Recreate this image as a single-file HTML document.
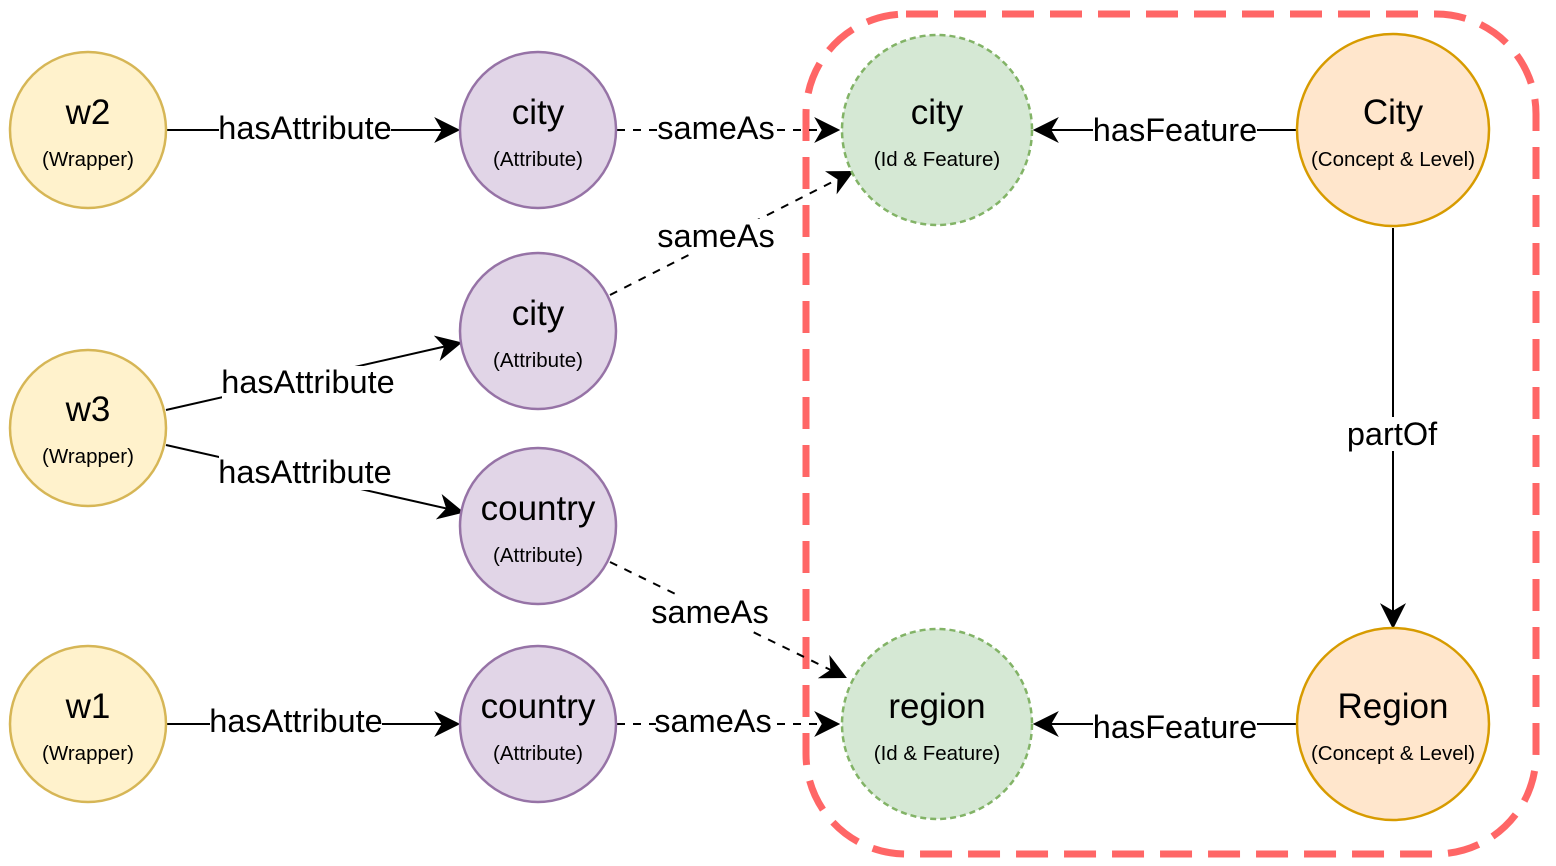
<!DOCTYPE html>
<html><head><meta charset="utf-8"><style>
html,body{margin:0;padding:0;background:#fff;}
svg{display:block;}
text{font-family:"Liberation Sans",Helvetica,Arial,sans-serif;fill:#000;}
.t{font-size:35px;text-anchor:middle;}
.s{font-size:20.5px;text-anchor:middle;}
.l{font-size:32.5px;text-anchor:middle;dominant-baseline:central;}
</style></head><body>
<svg width="1556" height="866" viewBox="0 0 1556 866" xmlns="http://www.w3.org/2000/svg">
<defs>
<marker id="b" viewBox="0 0 12 12" refX="11" refY="6" markerWidth="26" markerHeight="26" markerUnits="userSpaceOnUse" orient="auto">
<path d="M0,0 L12,6 L0,12 L3.5,6 z" fill="#000"/>
</marker>
</defs>
<rect x="806" y="14" width="730" height="840" rx="100" fill="none" stroke="#ff6666" stroke-width="7" stroke-dasharray="32,16"/>

<g stroke="#000" stroke-width="2" fill="none">
<line x1="167" y1="130" x2="458" y2="130" marker-end="url(#b)"/>
<line x1="617" y1="130" x2="838" y2="130" stroke-dasharray="8,8" marker-end="url(#b)"/>
<line x1="610" y1="295" x2="852" y2="172" stroke-dasharray="8,8" marker-end="url(#b)"/>
<line x1="166" y1="410" x2="460" y2="343" marker-end="url(#b)"/>
<line x1="166" y1="445" x2="462" y2="512" marker-end="url(#b)"/>
<line x1="610" y1="562" x2="845" y2="677" stroke-dasharray="8,8" marker-end="url(#b)"/>
<line x1="167" y1="724" x2="458" y2="724" marker-end="url(#b)"/>
<line x1="617" y1="724" x2="838" y2="724" stroke-dasharray="8,8" marker-end="url(#b)"/>
<line x1="1297" y1="130" x2="1035" y2="130" marker-end="url(#b)"/>
<line x1="1297" y1="724" x2="1035" y2="724" marker-end="url(#b)"/>
<line x1="1393" y1="228" x2="1393" y2="627" marker-end="url(#b)"/>
</g>

<g>
<rect x="219" y="112" width="172" height="34" fill="#fff"/><text class="l" x="305" y="128">hasAttribute</text>
<rect x="659" y="112" width="114" height="34" fill="#fff"/><text class="l" x="716" y="128">sameAs</text>
<rect x="659" y="219" width="114" height="34" fill="#fff"/><text class="l" x="716" y="236">sameAs</text>
<rect x="222" y="366" width="172" height="34" fill="#fff"/><text class="l" x="308" y="382">hasAttribute</text>
<rect x="219" y="456" width="172" height="34" fill="#fff"/><text class="l" x="305" y="472">hasAttribute</text>
<rect x="653" y="596" width="114" height="34" fill="#fff"/><text class="l" x="710" y="612">sameAs</text>
<rect x="210" y="705" width="172" height="34" fill="#fff"/><text class="l" x="296" y="721">hasAttribute</text>
<rect x="656" y="705" width="114" height="34" fill="#fff"/><text class="l" x="713" y="721">sameAs</text>
<rect x="1093" y="114" width="164" height="34" fill="#fff"/><text class="l" x="1175" y="130">hasFeature</text>
<rect x="1093" y="711" width="164" height="34" fill="#fff"/><text class="l" x="1175" y="727">hasFeature</text>
<rect x="1346" y="417" width="92" height="34" fill="#fff"/><text class="l" x="1392" y="434">partOf</text>
</g>

<g stroke-width="2.5">
<circle cx="88" cy="130" r="78" fill="#fff2cc" stroke="#d6b656"/>
<circle cx="88" cy="428" r="78" fill="#fff2cc" stroke="#d6b656"/>
<circle cx="88" cy="724" r="78" fill="#fff2cc" stroke="#d6b656"/>
<circle cx="538" cy="130" r="78" fill="#e1d5e7" stroke="#9673a6"/>
<circle cx="538" cy="331" r="78" fill="#e1d5e7" stroke="#9673a6"/>
<circle cx="538" cy="526" r="78" fill="#e1d5e7" stroke="#9673a6"/>
<circle cx="538" cy="724" r="78" fill="#e1d5e7" stroke="#9673a6"/>
<circle cx="937" cy="130" r="95" fill="#d5e8d4" stroke="#82b366" stroke-dasharray="6,4"/>
<circle cx="937" cy="724" r="95" fill="#d5e8d4" stroke="#82b366" stroke-dasharray="6,4"/>
<circle cx="1393" cy="130" r="96" fill="#ffe6cc" stroke="#d79b00"/>
<circle cx="1393" cy="724" r="96" fill="#ffe6cc" stroke="#d79b00"/>
</g>

<text class="t" x="88" y="124">w2</text><text class="s" x="88" y="166">(Wrapper)</text>
<text class="t" x="88" y="421">w3</text><text class="s" x="88" y="463">(Wrapper)</text>
<text class="t" x="88" y="718">w1</text><text class="s" x="88" y="760">(Wrapper)</text>
<text class="t" x="538" y="124">city</text><text class="s" x="538" y="166">(Attribute)</text>
<text class="t" x="538" y="325">city</text><text class="s" x="538" y="367">(Attribute)</text>
<text class="t" x="538" y="520">country</text><text class="s" x="538" y="562">(Attribute)</text>
<text class="t" x="538" y="718">country</text><text class="s" x="538" y="760">(Attribute)</text>
<text class="t" x="937" y="124">city</text><text class="s" x="937" y="166">(Id &amp; Feature)</text>
<text class="t" x="937" y="718">region</text><text class="s" x="937" y="760">(Id &amp; Feature)</text>
<text class="t" x="1393" y="124">City</text><text class="s" x="1393" y="166">(Concept &amp; Level)</text>
<text class="t" x="1393" y="718">Region</text><text class="s" x="1393" y="760">(Concept &amp; Level)</text>
</svg>
</body></html>
